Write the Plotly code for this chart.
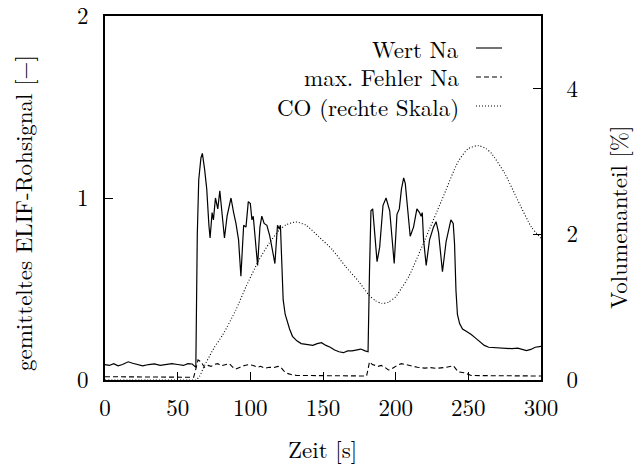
import plotly.graph_objects as go

# ---- data ----
na_t = [0, 3, 6, 9, 12, 16, 19, 22, 26, 30, 34, 38, 42, 46, 50, 54, 57, 60, 61.8, 62.5,
        63.5, 64.5, 66, 67, 68.5, 70, 71.5, 72.3, 73.7, 74.6, 76, 77.6, 79, 80.1, 82.2,
        84, 86.7, 88.5, 90.1, 91.9, 93.5, 95.4, 97, 98.6, 100, 101.1, 102, 105, 106.6,
        107.9, 109.5, 111.4, 113.4, 115.3, 116.9, 118.7, 119.9, 120.7, 121.5, 122.6, 124,
        125, 127, 129, 132, 135, 139, 143, 146, 149, 152, 155, 158, 161, 164, 167, 170,
        173, 176, 179, 181, 182, 183, 184.2, 185.5, 187.2, 189, 191.3, 193.4, 195.9,
        197.5, 199, 200.9, 202.5, 204, 205.5, 206.6, 208.5, 210, 212.3, 214.6, 216.4,
        217.5, 218.3, 219.2, 221, 223.3, 226, 227.8, 229.5, 232.2, 234.7, 236.3, 238,
        239.6, 240.5, 241.5, 242.5, 244, 246, 248, 250, 252, 255, 258, 261, 264, 268,
        272, 276, 280, 284, 287, 290, 293, 296, 300]
na_v = [0.085, 0.08, 0.09, 0.078, 0.085, 0.1, 0.092, 0.085, 0.078, 0.085, 0.088, 0.08,
        0.085, 0.09, 0.085, 0.08, 0.09, 0.088, 0.075, 0.07,
        0.8, 1.1, 1.22, 1.245, 1.16, 1.05, 0.85, 0.78, 0.92, 0.88, 1.0, 0.94, 1.04, 0.96,
        0.78, 0.9, 1.0, 0.92, 0.86, 0.77, 0.57, 0.85, 0.84, 0.98, 0.97, 0.88, 0.9, 0.63,
        0.84, 0.9, 0.86, 0.85, 0.79, 0.71, 0.64, 0.85, 0.83, 0.85, 0.7, 0.44, 0.36,
        0.33, 0.28, 0.24, 0.215, 0.2, 0.195, 0.19, 0.2, 0.205, 0.19, 0.18, 0.165, 0.155,
        0.15, 0.16, 0.16, 0.165, 0.17, 0.16, 0.155, 0.6, 0.93, 0.94, 0.8, 0.65, 0.73,
        0.96, 1.0, 0.93, 0.78, 0.64, 0.91, 0.94, 1.05, 1.11, 1.08, 0.9, 0.79, 0.84,
        0.94, 0.92, 0.9, 0.92, 0.77, 0.63, 0.77, 0.84, 0.87, 0.81, 0.595, 0.76, 0.82,
        0.88, 0.86, 0.75, 0.49, 0.36, 0.31, 0.28, 0.27, 0.26, 0.25, 0.23, 0.21, 0.19,
        0.18, 0.178, 0.178, 0.175, 0.172, 0.175, 0.17, 0.162, 0.168, 0.18, 0.185]

err_t = [0, 20, 40, 61, 62.5, 64, 66, 68.5, 71, 73, 75, 77.6, 80, 83, 85.6, 88, 90, 93,
         96, 99, 102, 105, 107, 110, 113, 116, 119, 121, 123, 126, 128, 132, 140, 150,
         160, 170, 180, 181, 182, 184, 186, 188, 190, 192.5, 195, 197, 199, 201, 204,
         207, 211, 215, 220, 224, 228, 231, 235, 239.7, 241, 243, 247, 250, 252, 260,
         280, 300]
err_v = [0.018, 0.017, 0.016, 0.015, 0.06, 0.11, 0.1, 0.07, 0.08, 0.075, 0.085, 0.09,
         0.078, 0.085, 0.09, 0.07, 0.06, 0.07, 0.08, 0.085, 0.08, 0.07, 0.075, 0.065,
         0.07, 0.068, 0.075, 0.07, 0.05, 0.035, 0.03, 0.025, 0.024, 0.024, 0.023, 0.022,
         0.022, 0.06, 0.1, 0.085, 0.078, 0.075, 0.08, 0.07, 0.055, 0.06, 0.07, 0.08,
         0.09, 0.085, 0.075, 0.07, 0.065, 0.068, 0.064, 0.066, 0.07, 0.078, 0.065, 0.045,
         0.04, 0.03, 0.025, 0.024, 0.023, 0.022]

co_t = [0, 30, 60, 62.5, 65, 68.5, 72, 75.3, 81, 90, 97, 106, 113, 120, 124.4, 131.3,
        138, 147, 156.4, 165.5, 174.7, 181.5, 186, 190.6, 195, 199.8, 204, 209, 220,
        231.7, 243, 250, 256.8, 262, 266, 275, 284, 293.4, 300]
co_v = [0, 0, 0, 0, 0.05, 0.2, 0.33, 0.45, 0.62, 0.96, 1.28, 1.65, 1.88, 2.06, 2.13,
        2.17, 2.13, 1.97, 1.79, 1.56, 1.35, 1.17, 1.09, 1.05, 1.07, 1.14, 1.26, 1.42,
        1.92, 2.47, 3.0, 3.18, 3.22, 3.18, 3.11, 2.84, 2.47, 2.1, 1.95]

x_ticks = [0, 50, 100, 150, 200, 250, 300]
y_ticks = [0, 1, 2]
y2_ticks = [0, 2, 4]
legend_names = ["Wert Na", "max. Fehler Na", "CO (rechte Skala)"]

FONT = "Latin Modern Roman"
FS = 23
W, H = 641, 469
ML, MR, MT, MB = 105, 100, 16, 89
PW, PH = W - ML - MR, H - MT - MB


def px(xp):
    return (xp - ML) / PW


def py(yp):
    return (H - MB - yp) / PH


fig = go.Figure()
fig.add_trace(go.Scatter(x=na_t, y=na_v, mode="lines", name=legend_names[0],
                         line=dict(color="black", width=1.2), showlegend=False))
fig.add_trace(go.Scatter(x=err_t, y=err_v, mode="lines", name=legend_names[1],
                         line=dict(color="black", width=1.1, dash="5px,3px"),
                         showlegend=False))
fig.add_trace(go.Scatter(x=co_t, y=co_v, mode="lines", name=legend_names[2], yaxis="y2",
                         line=dict(color="black", width=1.1, dash="1px,2px", shape="spline",
                                   smoothing=0.6),
                         showlegend=False))

axis_common = dict(showgrid=False, zeroline=False, ticks="inside", ticklen=8,
                   tickwidth=1, tickcolor="black", linecolor="black", linewidth=1.6,
                   ticklabeloverflow="allow", automargin=False,
                   tickfont=dict(family=FONT, size=FS, color="black"))

fig.update_layout(
    width=W, height=H,
    margin=dict(l=ML, r=MR, t=MT, b=MB, autoexpand=False),
    paper_bgcolor="white", plot_bgcolor="white",
    showlegend=False,
    font=dict(family=FONT, size=FS, color="black"),
    xaxis=dict(range=[0, 300], tickvals=x_ticks, mirror=True, showline=True,
               ticklabelstandoff=7, **axis_common),
    yaxis=dict(range=[0, 2], tickvals=y_ticks, mirror=True, showline=True,
               ticklabelstandoff=10, **axis_common),
    yaxis2=dict(range=[0, 5], tickvals=y2_ticks, overlaying="y", side="right",
                showline=True, ticklabelstandoff=19, **axis_common),
)

annotations = [
    dict(text="Zeit [s]", x=px(322), y=py(448), xref="paper", yref="paper",
         showarrow=False, xanchor="center", yanchor="middle", borderpad=0,
         font=dict(family=FONT, size=FS, color="black")),
    dict(text="gemitteltes ELIF-Rohsignal [−]", x=px(22), y=py(213), xref="paper",
         yref="paper", showarrow=False, textangle=-90, xanchor="center", yanchor="middle",
         borderpad=0, font=dict(family=FONT, size=FS, color="black")),
    dict(text="Volumenanteil [%]", x=px(617), y=py(218), xref="paper", yref="paper",
         showarrow=False, textangle=-90, xanchor="center", yanchor="middle", borderpad=0,
         font=dict(family=FONT, size=FS, color="black")),
]
shapes = []
rows = [48, 77, 106]
dashes = ["solid", "5px,3px", "1px,2px"]
for name, ry, d in zip(legend_names, rows, dashes):
    annotations.append(dict(text=name, x=px(460), y=py(ry), xref="paper", yref="paper",
                            showarrow=False, xanchor="right", yanchor="middle", borderpad=0,
                            font=dict(family=FONT, size=FS, color="black")))
    shapes.append(dict(type="line", xref="paper", yref="paper", x0=px(476), x1=px(502),
                       y0=py(ry), y1=py(ry), line=dict(color="black", width=1.1, dash=d)))

fig.update_layout(annotations=annotations, shapes=shapes)
fig.write_html("out.html")
